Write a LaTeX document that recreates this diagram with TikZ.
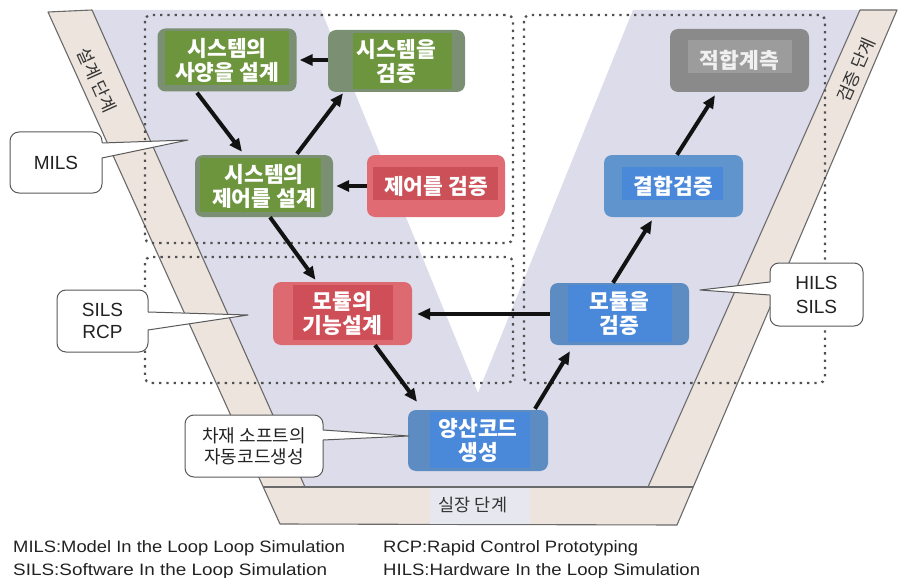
\documentclass[tikz,border=0pt]{standalone}
\usepackage{fontspec}
\usepackage{graphicx}
\setmainfont{Liberation Sans}
\newfontfamily\kr{Noto Sans CJK KR}
\usetikzlibrary{arrows.meta,calc}
\definecolor{lav}{HTML}{DCDCEA}
\definecolor{bandc}{HTML}{EDE4DE}
\definecolor{edgec}{HTML}{6A6A6A}
\definecolor{gOut}{HTML}{7B8F72}
\definecolor{gIn}{HTML}{6C953D}
\definecolor{rStrip}{HTML}{DD6A71}
\definecolor{rIn}{HTML}{CF4F58}
\definecolor{dOut}{HTML}{E06B72}
\definecolor{dIn}{HTML}{CC5057}
\definecolor{bStrip}{HTML}{5C8CC2}
\definecolor{bIn}{HTML}{4A88DA}
\definecolor{hOut}{HTML}{5F94CC}
\definecolor{gyOut}{HTML}{8A8A8A}
\definecolor{gyIn}{HTML}{9C9C9C}
\definecolor{dotc}{HTML}{505050}
\definecolor{txt}{HTML}{222222}
\tikzset{
  inset/.style n args={5}{path picture={\fill[#1,sharp corners]
      ([xshift=#2pt,yshift=-#3pt]path picture bounding box.north west) rectangle
      ([xshift=-#4pt,yshift=#5pt]path picture bounding box.south east);}},
  vbox/.style={rounded corners=8pt, inner sep=0pt, align=center, text=white,
      font=\kr\bfseries\fontsize{21.5}{24}\selectfont},
  arr/.style={line width=4pt, draw=black!93, -{Triangle[length=13pt,width=11pt]}},
  dotbox/.style={draw=dotc, line width=2.3pt, dash pattern=on 2.3pt off 5pt, rounded corners=6pt},
  cbox/.style={draw=black!65, line width=1pt, fill=white, rounded corners=9pt, inner sep=0pt, align=center, text=txt},
  cline/.style={draw=black!65, line width=1pt, line join=round},
  bandtxt/.style={font=\kr\fontsize{17.5}{17.5}\selectfont, text=black!80, inner sep=0pt},
  legend/.style={anchor=base west, inner sep=0pt, text=txt, font=\fontsize{16.5}{18}\selectfont}
}
\begin{document}
\begin{tikzpicture}[x=1pt,y=-1pt]
\useasboundingbox (0,0) rectangle (898,578);
% lavender V
\fill[lav] (92,10) -- (321,10) -- (478,393) -- (633,10) -- (860,10) -- (648,487) -- (305,487) -- cycle;
% bands
\filldraw[fill=bandc, draw=edgec, line width=1.1pt, line join=round]
  (48,12) -- (92,10) -- (305,487) -- (648,487) -- (860,10) -- (897,10) -- (677,525) -- (280,524) -- cycle;
\fill[lav!70!white] (430,488) rectangle (530,523.5);
\draw[edgec, line width=1.1pt] (263,487) -- (693,487);
\node[bandtxt, rotate=-65.7] (lbl1) at (97,80) {설계 단계};
\node[bandtxt, rotate=66.5] (lbl2) at (856,70) {검증 단계};
\node[bandtxt] (lbl3) at (473,505) {실장 단계};
% dotted groups
\draw[dotbox] (145,15) rectangle (513,243);
\draw[dotbox] (145,257) rectangle (513,383);
\draw[dotbox] (524,15) rectangle (825,383);
% boxes
\node[vbox, fill=gOut, inset={gIn}{7}{3}{8}{6}, minimum width=139pt, minimum height=63pt] (A) at (227,60) {시스템의\\사양을 설계};
\node[vbox, fill=gOut, inset={gIn}{25}{3}{13}{3}, minimum width=137pt, minimum height=62pt] (B) at (396.5,61) {시스템을\\검증};
\node[vbox, fill=gOut, inset={gIn}{5}{3}{12}{5}, minimum width=138pt, minimum height=62pt] (C) at (264,186) {시스템의\\제어를 설계};
\node[vbox, fill=dOut, inset={dIn}{6}{12}{7}{17}, minimum width=138pt, minimum height=62pt] (D) at (436,186) {제어를 검증};
\node[vbox, fill=rStrip, inset={rIn}{20}{3}{19}{5}, minimum width=139pt, minimum height=63pt] (E) at (342.5,313.5) {모듈의\\기능설계};
\node[vbox, fill=bStrip, inset={bIn}{18}{2}{17}{3}, minimum width=139pt, minimum height=62pt] (F) at (619.5,314) {모듈을\\검증};
\node[vbox, fill=bStrip, inset={bIn}{22}{2}{18}{3}, minimum width=140pt, minimum height=61pt] (G) at (478,440.5) {양산코드\\생성};
\node[vbox, fill=hOut, inset={bIn}{18}{12}{20}{17}, minimum width=139pt, minimum height=62pt] (H) at (673.5,186) {결합검증};
\node[vbox, fill=gyOut, inset={gyIn}{18}{11}{17}{19}, minimum width=139pt, minimum height=63pt, text=white!94!black] (I) at (739.5,60.5) {적합계측};
% arrows
\draw[arr] ([xshift=-30pt,yshift=-1pt]A.south) -- ([xshift=-22pt,yshift=3pt]C.north);
\draw[arr] ([xshift=33pt,yshift=1pt]C.north) -- ([xshift=-53.5pt,yshift=-1pt]B.south);
\draw[arr] (B.west |- A.east) -- ([xshift=3pt]A.east);
\draw[arr] (D.west) -- ([xshift=3pt]C.east);
\draw[arr] ([xshift=6pt]C.south) -- ([xshift=-27pt,yshift=2pt]E.north);
\draw[arr] ([xshift=32.5pt]E.south) -- ([xshift=-61pt,yshift=8pt]G.north);
\draw[arr] ([xshift=57pt,yshift=1pt]G.north) -- ([xshift=-49.5pt,yshift=-6pt]F.south);
\draw[arr] (F.west) -- ([xshift=5pt]F.west -| E.east);
\draw[arr] ([xshift=-6.5pt]F.north) -- ([xshift=-21.5pt,yshift=-3pt]H.south);
\draw[arr] ([xshift=3.5pt]H.north) -- ([xshift=-24.5pt,yshift=-3pt]I.south);
% callouts
\node[cbox, minimum width=92pt, minimum height=61pt, font=\fontsize{19}{22}\selectfont] (mils) at (56,162.5) {MILS};
\coordinate (mt) at (188,140);
\fill[white] ($(mils.east)+(-2,-19.5)$) -- (mt) -- ($(mils.east)+(-2,-4.5)$) -- cycle;
\draw[cline] ($(mils.east)+(-0.5,-19.5)$) -- (mt) -- ($(mils.east)+(-0.5,-4.5)$);

\node[cbox, minimum width=91pt, minimum height=62pt, font=\fontsize{19}{22}\selectfont] (sils) at (102.5,321) {SILS\\RCP};
\coordinate (st) at (248,315);
\fill[white] ($(sils.east)+(-2,-9)$) -- (st) -- ($(sils.east)+(-2,9)$) -- cycle;
\draw[cline] ($(sils.east)+(-0.5,-9)$) -- (st) -- ($(sils.east)+(-0.5,9)$);

\node[cbox, minimum width=138pt, minimum height=62pt, font=\kr\fontsize{18}{21}\selectfont] (auto) at (254,446) {차재 소프트의\\자동코드생성};
\coordinate (at) at (409,436);
\fill[white] ($(auto.east)+(-2,-16)$) -- (at) -- ($(auto.east)+(-2,-6)$) -- cycle;
\draw[cline] ($(auto.east)+(-0.5,-16)$) -- (at) -- ($(auto.east)+(-0.5,-6)$);

\node[cbox, minimum width=93pt, minimum height=63pt, font=\fontsize{19}{24}\selectfont] (hils) at (816.5,294.5) {HILS\\SILS};
\coordinate (ht) at (700,290);
\fill[white] ($(hils.west)+(2,-12.5)$) -- (ht) -- ($(hils.west)+(2,0.5)$) -- cycle;
\draw[cline] ($(hils.west)+(0.5,-12.5)$) -- (ht) -- ($(hils.west)+(0.5,0.5)$);
% legend
\node[legend] (l1) at (13,552) {\resizebox{332pt}{\height}{MILS:Model In the Loop Loop Simulation}};
\node[legend] (l2) at (13,575) {\resizebox{314pt}{\height}{SILS:Software In the Loop Simulation}};
\node[legend] (l3) at (383,552) {\resizebox{255pt}{\height}{RCP:Rapid Control Prototyping}};
\node[legend] (l4) at (383,575) {\resizebox{317pt}{\height}{HILS:Hardware In the Loop Simulation}};
\end{tikzpicture}
\end{document}
